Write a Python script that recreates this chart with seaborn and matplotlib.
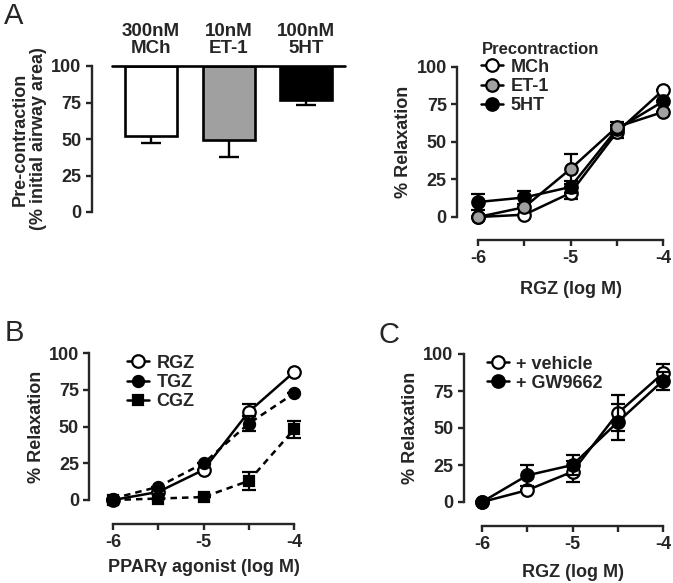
import matplotlib.pyplot as plt
import pandas as pd
import numpy as np
import seaborn as sns

# panel A left: precontraction bars
agonists = ['300nM\nMCh', '10nM\nET-1', '100nM\n5HT']
pre_mean = [52, 49.5, 76.5]
pre_sem = [4.5, 11.5, 3.5]
bar_colors = ['white', '#a0a0a0', 'black']

# shared x for curves (log M)
logM = [-6, -5.5, -5, -4.5, -4]

# panel A right: RGZ relaxation by precontraction agent
a_mch = [0, 1.5, 16, 56.5, 84.5]
a_mch_err = [0, 0, 4, 4, 0]
a_et1 = [0, 6.5, 32, 60, 70]
a_et1_err = [0, 0, 10, 3, 0]
a_5ht = [10, 13, 20, 58.5, 77]
a_5ht_err = [5.5, 4.5, 4, 3, 0]

# panel B: PPARgamma agonists
b_rgz = [0, 5.5, 20.5, 60, 87]
b_rgz_err = [0, 0, 0, 5, 0]
b_tgz = [1, 9, 25, 52, 72.5]
b_tgz_err = [0, 0, 0, 5, 0]
b_cgz = [0, 1, 2, 13, 48]
b_cgz_err = [0, 0, 0, 6, 6]

# panel C: vehicle vs GW9662
c_veh = [0, 8, 20.5, 60, 87]
c_veh_err = [0, 0, 7, 12, 6]
c_gw = [0, 18, 25, 54, 82]
c_gw_err = [0, 7, 7, 12, 6]

FS = 13

sns.set_style("ticks")
plt.rcParams['font.family'] = ['Liberation Sans', 'DejaVu Sans']
plt.rcParams['font.weight'] = 'bold'
plt.rcParams['axes.labelweight'] = 'bold'
plt.rcParams['axes.linewidth'] = 1.7
plt.rcParams['xtick.major.width'] = 1.7
plt.rcParams['ytick.major.width'] = 1.7
plt.rcParams['xtick.major.size'] = 4
plt.rcParams['ytick.major.size'] = 4
plt.rcParams['xtick.labelsize'] = FS
plt.rcParams['ytick.labelsize'] = FS

W, H = 673, 583
fig = plt.figure(figsize=(W / 100, H / 100), dpi=100)


def px_axes(x0, x1, ytop, ybot):
    return fig.add_axes([x0 / W, 1 - ybot / H, (x1 - x0) / W, (ybot - ytop) / H])


# ---- A left ----
ax = px_axes(92, 345, 66, 212)
xs = np.arange(len(agonists))
ax.bar(xs, [100 - v for v in pre_mean], bottom=pre_mean, width=0.67,
       color=bar_colors, edgecolor='black', linewidth=1.9, zorder=3)
ax.errorbar(xs, pre_mean, yerr=[pre_sem, [0, 0, 0]], fmt='none', ecolor='black',
            elinewidth=1.7, capsize=7, capthick=1.7, zorder=2)
ax.plot([-0.5, 2.5], [100, 100], color='black', lw=1.9, clip_on=False, zorder=4)
ax.set_xlim(-0.76, 2.5)
ax.set_ylim(0, 100)
ax.set_yticks([0, 25, 50, 75, 100])
ax.set_xticks([])
for x, lab in zip(xs, agonists):
    ax.text(x, 106, lab, ha='center', va='bottom', fontsize=13.5, fontweight='bold',
            linespacing=1.0)
for s in ['top', 'right', 'bottom']:
    ax.spines[s].set_visible(False)
ax.set_ylabel('Pre-contraction\n(% initial airway area)', fontsize=FS, labelpad=3,
              linespacing=1.1)
fig.text(4 / W, 1 - 16 / H, 'A', fontsize=21, fontweight='normal', va='center')


def curve_axes(ax, left_out, bot_out, xlabel, xpad=6):
    ax.set_xlim(-6, -4)
    ax.set_ylim(0, 100)
    ax.set_xticks(logM)
    ax.set_xticklabels(['-6', '', '-5', '', '-4'])
    ax.set_yticks([0, 25, 50, 75, 100])
    sns.despine(ax=ax)
    ax.spines['left'].set_position(('outward', left_out))
    ax.spines['bottom'].set_position(('outward', bot_out))
    ax.set_xlabel(xlabel, fontsize=FS, labelpad=xpad)
    ax.set_ylabel('% Relaxation', fontsize=FS, labelpad=3)


def series(ax, y, err, face, dashed=False, marker='o', ms=9, label=None, z=3):
    df = pd.DataFrame({'x': logM, 'y': y})
    ax.errorbar(logM, y, yerr=err, fmt='none', ecolor='black', elinewidth=1.6,
                capsize=5, capthick=1.6, zorder=z, clip_on=False)
    sns.lineplot(data=df, x='x', y='y', ax=ax, color='black', lw=1.8,
                 marker=marker, markersize=ms, markerfacecolor=face,
                 markeredgecolor='black', markeredgewidth=1.6, label=label,
                 zorder=z, clip_on=False)
    if dashed:
        ax.lines[-1].set_dashes((2.6, 2.0))


leg_kw = dict(loc='upper left', frameon=False, handlelength=1.2,
              handletextpad=0.4, labelspacing=0.12, borderpad=0,
              prop={'size': FS, 'weight': 'bold'})

# ---- A right ----
ax = px_axes(478, 663, 67, 217)
series(ax, a_mch, a_mch_err, 'white', label='MCh', z=3)
series(ax, a_5ht, a_5ht_err, 'black', label='5HT', z=4)
series(ax, a_et1, a_et1_err, '#a0a0a0', label='ET-1', z=5)
h, l = ax.get_legend_handles_labels()
order = [l.index('MCh'), l.index('ET-1'), l.index('5HT')]
curve_axes(ax, 15, 16.5, 'RGZ (log M)', xpad=10)
ax.legend([h[i] for i in order], [l[i] for i in order], title='Precontraction',
          bbox_to_anchor=(-0.03, 1.23),
          title_fontproperties={'size': 12, 'weight': 'bold'}, alignment='left',
          **leg_kw)

# ---- B ----
ax = px_axes(113, 294, 353, 500)
series(ax, b_rgz, b_rgz_err, 'white', label='RGZ', z=3)
series(ax, b_cgz, b_cgz_err, 'black', dashed=True, marker='s', ms=7, label='CGZ', z=4)
series(ax, b_tgz, b_tgz_err, 'black', dashed=True, ms=8, label='TGZ', z=5)
h, l = ax.get_legend_handles_labels()
order = [l.index('RGZ'), l.index('TGZ'), l.index('CGZ')]
curve_axes(ax, 17, 17, 'PPAR\u03b3 agonist (log M)')
leg = ax.legend([h[i] for i in order], [l[i] for i in order],
                bbox_to_anchor=(0.03, 1.05), **leg_kw)
for ln in leg.get_lines():
    ln.set_linestyle('-')
fig.text(5 / W, 1 - 333 / H, 'B', fontsize=21, fontweight='normal', va='center')

# ---- C ----
ax = px_axes(482, 663, 354, 502)
series(ax, c_veh, c_veh_err, 'white', label='+ vehicle', z=3)
series(ax, c_gw, c_gw_err, 'black', label='+ GW9662', z=4)
curve_axes(ax, 13, 17, 'RGZ (log M)', xpad=8)
ax.legend(bbox_to_anchor=(-0.02, 1.05), **leg_kw)
fig.text(378 / W, 1 - 335 / H, 'C', fontsize=21, fontweight='normal', va='center')

fig.savefig('out.png', dpi=100)
